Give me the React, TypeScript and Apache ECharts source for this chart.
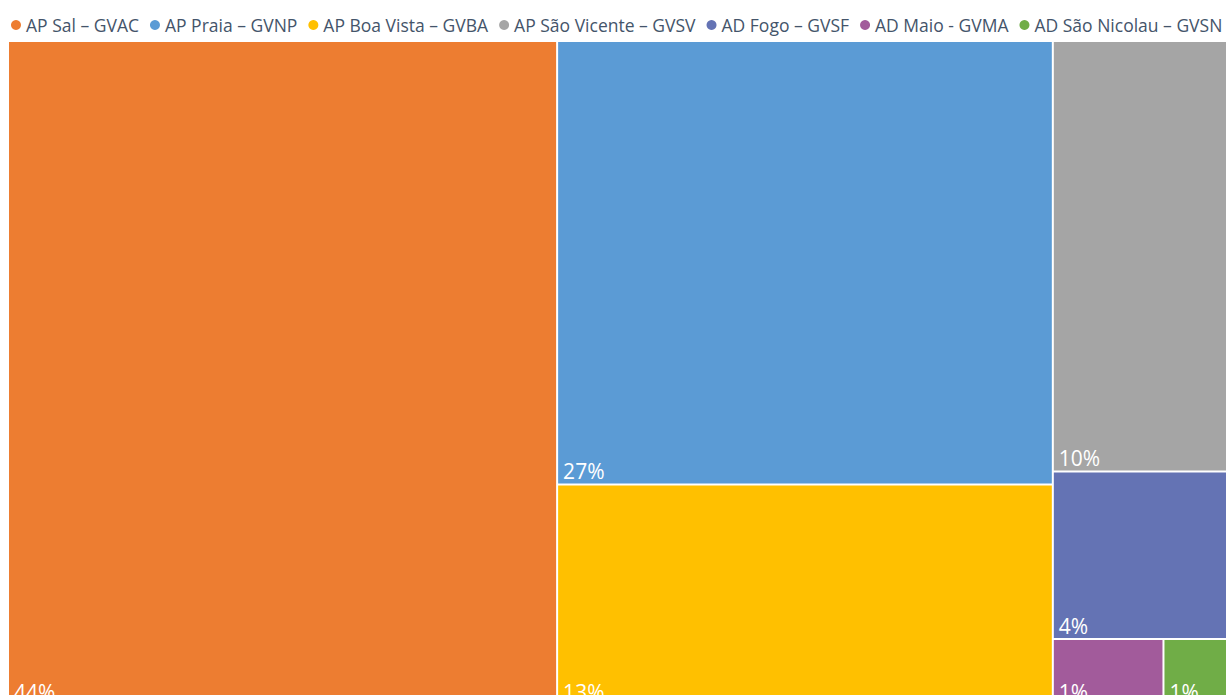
import React, { useEffect, useRef } from "react";
import * as echarts from "echarts";

// Airport names (legend order) and colours
const names = [
  "AP Sal – GVAC",
  "AP Praia – GVNP",
  "AP Boa Vista – GVBA",
  "AP São Vicente – GVSV",
  "AD Fogo – GVSF",
  "AD Maio - GVMA",
  "AD São Nicolau – GVSN",
];
const colors = ["#ED7D31", "#5B9BD5", "#FFC000", "#A5A5A5", "#6473B4", "#A25B9B", "#70AD47"];
// Share of traffic (%)
const shares = [44.0, 26.53, 13.19, 10.45, 4.07, 0.88, 0.72];
// Grouping of the treemap (indices into the arrays above)
const groups = [[0], [1, 2], [3, 4, 5, 6]];

const total = shares.reduce((a, b) => a + b, 0);

const leaf = (i: number) => ({
  name: names[i],
  value: shares[i],
  itemStyle: { color: colors[i] },
});

export default function App() {
  const ref = useRef<HTMLDivElement>(null);
  useEffect(() => {
    if (!ref.current) return;
    const chart = echarts.init(ref.current, undefined, { renderer: "svg" });
    const data = groups.map((g, gi) =>
      g.length === 1
        ? leaf(g[0])
        : {
            name: "group" + gi,
            label: { show: false },
            children: g.map(leaf),
          }
    );
    chart.setOption({
      animation: false,
      backgroundColor: "#ffffff",
      legend: {
        left: 11,
        top: 16,
        padding: 0,
        icon: "circle",
        itemWidth: 10,
        itemHeight: 10,
        itemGap: 11,
        selectedMode: false,
        data: names,
        textStyle: { fontFamily: "Open Sans", fontSize: 17.5, color: "#44546A" },
      },
      series: [
        {
          type: "pie",
          silent: true,
          center: [-100, -100],
          radius: [0, 0],
          label: { show: false },
          labelLine: { show: false },
          data: names.map((n, i) => ({ name: n, value: shares[i], itemStyle: { color: colors[i] } })),
        },
        {
          type: "treemap",
          left: 9,
          top: 42,
          width: 1244,
          height: 662,
          roam: false,
          nodeClick: false,
          breadcrumb: { show: false },
          squareRatio: 0.5 * (1 + Math.sqrt(5)),
          itemStyle: { borderWidth: 0, gapWidth: 2, borderColor: "#ffffff" },
          label: {
            show: true,
            position: "insideBottomLeft",
            padding: [0, 0, 2, 5],
            color: "#ffffff",
            fontFamily: "Open Sans",
            fontSize: 21,
            formatter: (p: any) => Math.round((p.value / total) * 100) + "%",
          },
          upperLabel: { show: false },
          data,
        },
      ],
    });
    return () => chart.dispose();
  }, []);
  return (
    <div
      ref={ref}
      style={{ position: "fixed", left: 0, top: 0, width: 1226, height: 695 }}
    />
  );
}
